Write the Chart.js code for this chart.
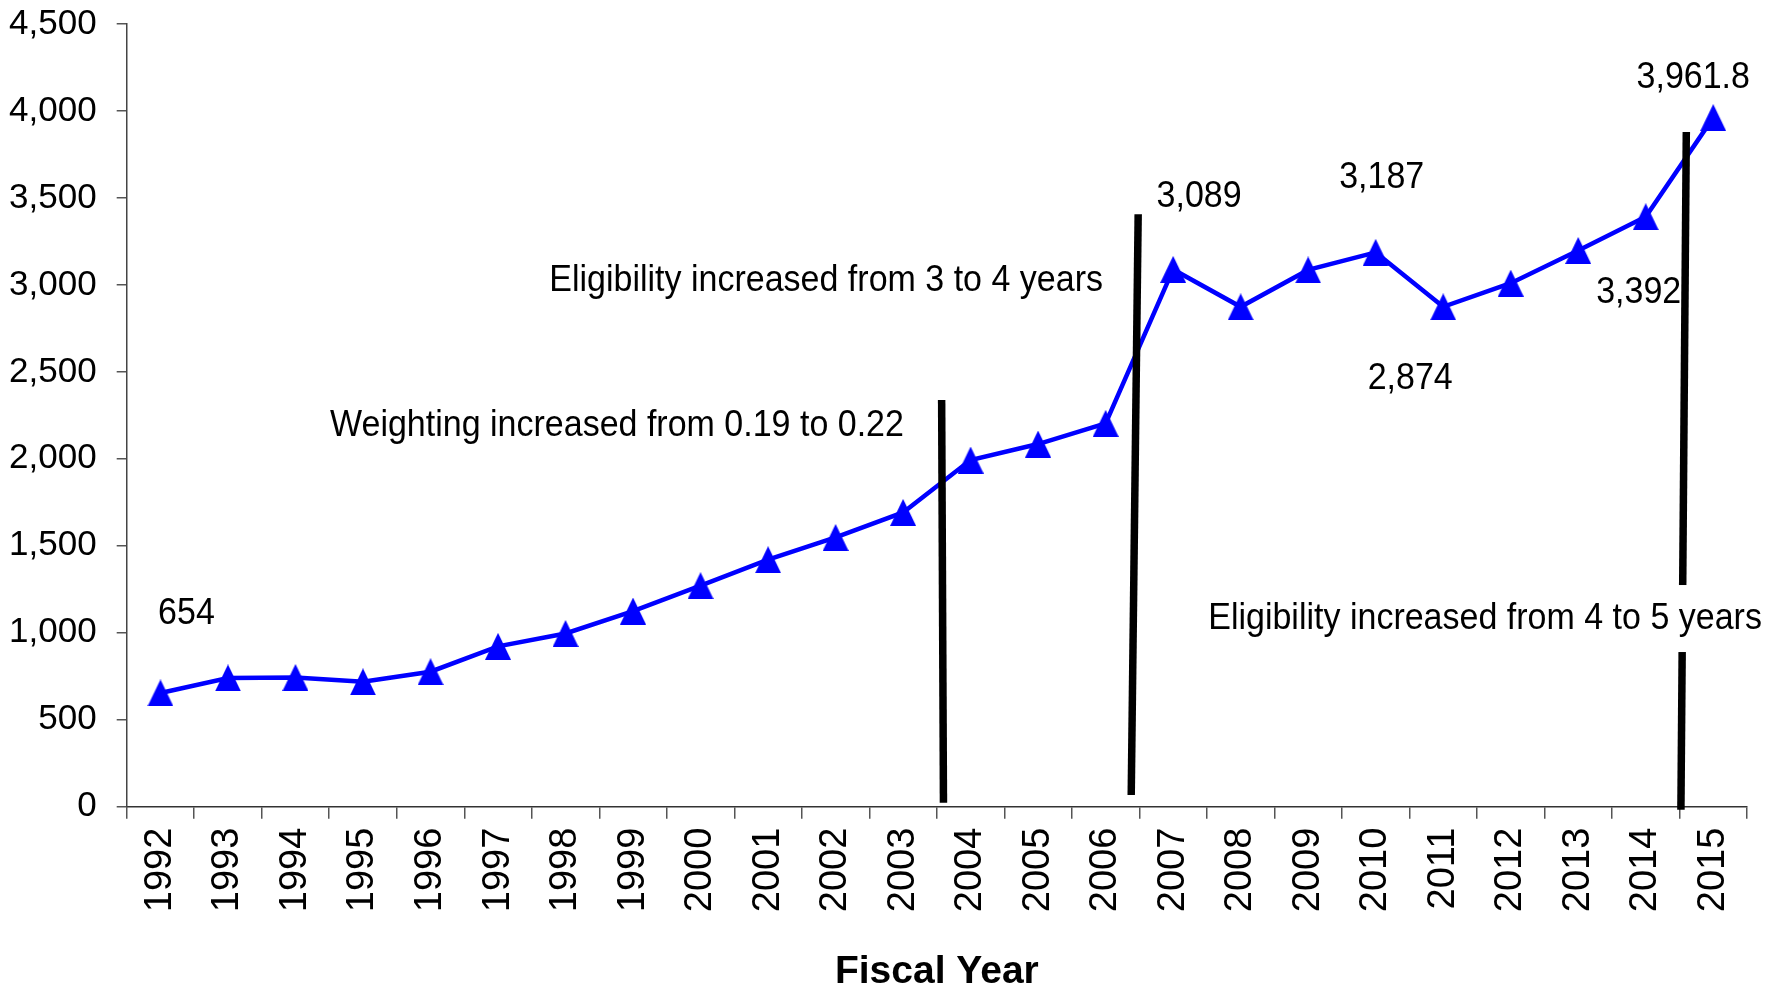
<!DOCTYPE html>
<html>
<head>
<meta charset="utf-8">
<script src="https://cdn.jsdelivr.net/npm/chart.js@4/dist/chart.umd.min.js"></script>
<style>
  html, body { margin: 0; padding: 0; background: #fff; }
  #wrap { width: 1783px; height: 987px; position: relative; }
</style>
</head>
<body>
<div id="wrap"><canvas id="chart"></canvas></div>
<script>
// Fiscal years and yearly totals
const years = ['1992','1993','1994','1995','1996','1997','1998','1999','2000','2001','2002','2003',
               '2004','2005','2006','2007','2008','2009','2010','2011','2012','2013','2014','2015'];
const totals = [654, 740, 743, 718, 776, 922, 996, 1125, 1271, 1420, 1548, 1692,
                1993, 2085, 2204, 3089, 2874, 3086, 3187, 2874, 3010, 3198, 3392, 3961.8];

// Value-axis ticks
const yTicks = [0, 500, 1000, 1500, 2000, 2500, 3000, 3500, 4000, 4500];

// Years whose values are printed next to the marker
const labelledYears = ['1992', '2007', '2010', '2011', '2014', '2015'];
// pixel offsets of those labels from their markers
const labelOffsets = [[26, -79], [26, -73], [6, -75], [-33, 72], [-7, 76], [-20, -40]];

// Policy-change divider lines, in (category index, value) units
const dividerLines = [
  { from: [11.571, 2338], to: [11.598, 23] },
  { from: [14.482, 3406], to: [14.379, 67] },
  { from: [22.601, 3879], to: [22.521, -17] }
];

// Policy-change notes, centred at (category index, value)
const notes = [
  { text: 'Weighting increased from 0.19 to 0.22', at: [6.762, 2189], boxed: false },
  { text: 'Eligibility increased from 3 to 4 years', at: [9.860, 3023], boxed: false },
  { text: 'Eligibility increased from 4 to 5 years', at: [19.62, 1079], boxed: true }
];

const FONT = '"Liberation Sans", Arial, Helvetica, sans-serif';

function triangleMarker(w, h, color) {
  const c = document.createElement('canvas');
  c.width = w; c.height = h;
  const g = c.getContext('2d');
  g.fillStyle = color;
  g.beginPath();
  g.moveTo(w / 2, 0);
  g.lineTo(w, h);
  g.lineTo(0, h);
  g.closePath();
  g.fill();
  return c;
}

const fmt = v => Number(v).toLocaleString('en-US', { maximumFractionDigits: 1 });

// text drawn slightly taller than wide, like the axis lettering
function tallText(ctx, text, px, py) {
  ctx.save();
  ctx.translate(px, py);
  ctx.scale(1, 1.1);
  ctx.fillText(text, 0, 0);
  ctx.restore();
}

const overlay = {
  id: 'overlay',
  afterDatasetsDraw(chart) {
    const { ctx, scales: { x, y } } = chart;
    ctx.save();

    // divider lines
    ctx.strokeStyle = '#000';
    ctx.lineWidth = 7.5;
    ctx.lineCap = 'butt';
    dividerLines.forEach(l => {
      ctx.beginPath();
      ctx.moveTo(x.getPixelForValue(l.from[0]), y.getPixelForValue(l.from[1]));
      ctx.lineTo(x.getPixelForValue(l.to[0]), y.getPixelForValue(l.to[1]));
      ctx.stroke();
    });

    // notes
    ctx.font = '34px ' + FONT;
    ctx.textAlign = 'center';
    ctx.textBaseline = 'middle';
    notes.forEach(n => {
      const px = x.getPixelForValue(n.at[0]);
      const py = y.getPixelForValue(n.at[1]);
      if (n.boxed) {
        const w = ctx.measureText(n.text).width;
        ctx.fillStyle = '#fff';
        ctx.fillRect(px - w / 2 - 8, py - 34, w + 16, 67);
      }
      ctx.fillStyle = '#000';
      tallText(ctx, n.text, px, py);
    });

    // value labels
    labelledYears.forEach((yr, k) => {
      const i = years.indexOf(yr);
      const px = x.getPixelForValue(i) + labelOffsets[k][0];
      const py = y.getPixelForValue(totals[i]) + labelOffsets[k][1];
      ctx.fillStyle = '#000';
      tallText(ctx, fmt(totals[i]), px, py);
    });

    ctx.restore();
  }
};

new Chart(document.getElementById('chart'), {
  type: 'line',
  data: {
    labels: years,
    datasets: [{
      data: totals,
      borderColor: '#0000ff',
      borderWidth: 4.5,
      tension: 0,
      pointStyle: triangleMarker(26, 27, '#0000ff'),
      pointRadius: 13,
      pointHoverRadius: 13,
      fill: false
    }]
  },
  options: {
    responsive: true,
    maintainAspectRatio: false,
    animation: false,
    events: [],
    layout: { padding: { top: 24, right: 36, left: 0, bottom: 0 } },
    plugins: {
      legend: { display: false },
      tooltip: { enabled: false },
      title: { display: false }
    },
    scales: {
      x: {
        type: 'category',
        offset: true,
        grid: {
          offset: true,
          drawOnChartArea: false,
          drawTicks: true,
          tickLength: 12,
          color: '#555',
          lineWidth: 1.5
        },
        border: { display: true, color: '#333', width: 1.5 },
        ticks: {
          autoSkip: false,
          maxRotation: 90,
          minRotation: 90,
          padding: 9,
          color: '#000',
          font: { family: FONT, size: 38 }
        },
        title: {
          display: true,
          text: 'Fiscal Year',
          color: '#000',
          padding: { top: 0, bottom: -5 },
          font: { family: FONT, size: 39, weight: 'bold', lineHeight: 1 }
        },
        afterFit(scale) { scale.height = 180.3; }
      },
      y: {
        min: 0,
        max: 4500,
        afterBuildTicks(scale) { scale.ticks = yTicks.map(v => ({ value: v })); },
        grid: {
          drawOnChartArea: false,
          drawTicks: true,
          tickLength: 10,
          color: '#555',
          lineWidth: 1.5
        },
        border: { display: true, color: '#444', width: 1.5 },
        ticks: {
          padding: 20,
          color: '#000',
          font: { family: FONT, size: 35, lineHeight: 0.1 },
          callback: v => fmt(v)
        },
        afterFit(scale) { scale.width = 126.7; }
      }
    }
  },
  plugins: [overlay]
});
</script>
</body>
</html>
